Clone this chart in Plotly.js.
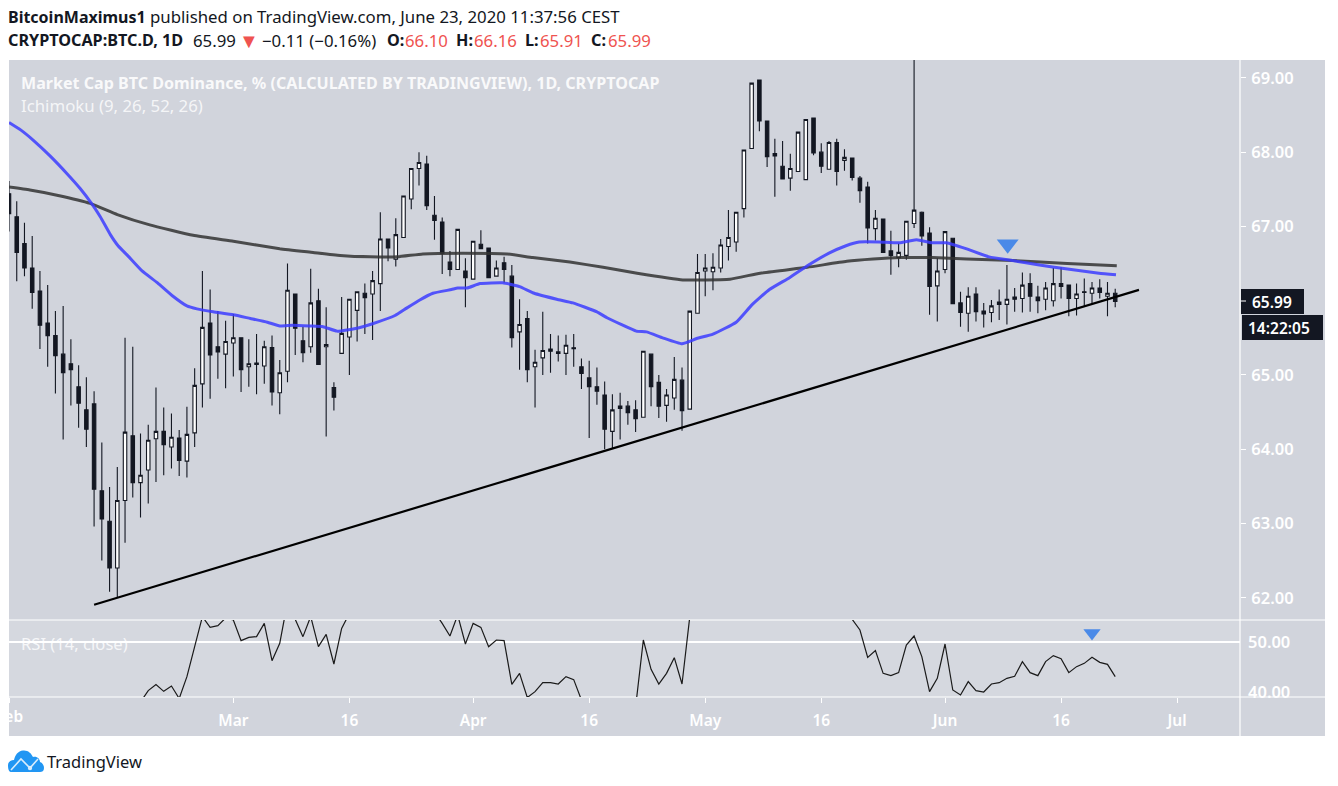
<!DOCTYPE html>
<html><head><meta charset="utf-8">
<script src="https://cdn.plot.ly/plotly-3.0.1.min.js"></script>
<style>html,body{margin:0;padding:0;background:#fff}#c{width:1338px;height:786px;position:relative}
#logo{position:absolute;left:8px;top:750px;width:36px;height:22px}</style></head>
<body><div id="c"><svg id="logo" viewBox="0 0 36 22"><path d="M3 22 C0 22 0 16 0 15 C0 12 3 10 6 10 C7 5 10 1 15 0.5 C20 0 23 3 25 7 C29 6 32 9 32 12 C35 13 36 16 36 18 C36 21 34 22 32 22 Z" fill="#2196f3"/><path d="M3 20 L13 9 L22 18 L30 9 " fill="none" stroke="#d9ecfc" stroke-width="1.6"/><circle cx="22" cy="18" r="2.2" fill="#d9ecfc"/></svg></div>
<script>
const opens=[67.44,67.13,66.77,66.44,66.13,65.70,65.53,65.28,65.15,64.84,64.53,64.61,63.44,63.03,62.40,63.31,64.18,63.55,63.72,64.14,64.24,64.03,64.15,63.84,64.22,64.88,65.70,65.38,65.28,65.43,65.50,65.11,65.16,65.12,65.37,64.76,65.05,66.09,65.46,65.38,66.00,65.38,64.83,65.29,65.51,65.87,66.10,66.09,66.23,66.83,66.56,66.85,67.37,67.78,67.84,67.15,67.06,66.52,66.42,66.40,66.29,66.76,66.71,66.33,66.51,66.33,65.58,65.76,65.11,65.23,65.35,65.31,65.29,65.365,65.11,64.96,64.84,64.73,64.24,64.55,64.58,64.53,64.43,65.28,64.90,64.59,64.69,64.93,64.54,65.83,66.40,66.39,66.44,66.73,66.79,67.24,68.05,68.97,68.42,67.95,67.81,67.65,67.74,67.63,68.46,68.00,67.77,68.13,67.89,67.92,67.65,67.53,66.97,67.10,66.67,66.58,66.61,67.04,67.19,66.91,66.20,66.42,66.84,65.97,65.83,66.09,65.86,65.84,65.98,65.95,66.05,66.03,66.23,66.05,66.02,66.00,66.23,66.21,66.03,66.12,66.10,66.17,66.06,66.10];
const highs=[67.61,67.34,67.05,66.87,66.40,66.21,65.86,65.93,65.48,65.13,64.97,64.78,64.09,63.49,63.76,65.50,65.38,64.21,64.33,64.83,64.56,64.48,64.26,64.57,65.09,66.40,66.15,65.86,65.73,65.82,65.50,65.48,65.55,65.46,65.53,65.20,66.50,66.09,65.65,66.43,66.16,65.91,64.90,66.05,66.02,66.12,66.23,66.40,67.19,66.83,67.11,67.41,67.78,68.00,67.95,67.41,67.12,66.67,66.96,66.57,66.80,66.95,66.71,66.54,66.59,66.48,66.02,65.86,65.34,65.85,65.55,65.53,65.54,65.55,65.22,65.19,65.10,64.91,64.74,64.76,64.65,64.66,65.32,65.28,65.00,64.81,65.24,65.10,65.86,66.63,66.63,66.64,66.83,67.22,67.19,68.03,68.93,68.97,68.42,68.18,68.15,67.98,68.27,68.44,68.46,68.12,68.15,68.18,68.04,67.92,67.68,67.60,67.22,67.10,66.94,66.77,67.07,69.40,67.20,66.99,66.57,66.93,66.84,66.12,66.18,66.18,65.97,66.01,66.15,66.48,66.17,66.38,66.37,66.20,66.25,66.44,66.45,66.21,66.23,66.30,66.25,66.29,66.25,66.16];
const lows=[66.93,66.26,66.33,65.89,65.35,65.11,64.75,64.13,64.59,64.29,64.03,62.96,62.50,62.08,62.00,62.74,63.35,63.08,63.27,63.56,63.65,63.74,63.64,63.62,64.03,64.56,64.68,64.95,64.82,64.98,64.77,64.84,64.74,64.88,64.59,64.47,64.90,65.27,65.17,65.30,65.14,64.17,64.52,65.29,65.00,65.45,65.55,65.47,65.86,66.53,66.46,66.85,67.23,67.55,67.22,66.82,66.36,66.33,66.42,65.91,66.29,66.70,66.31,66.33,66.24,65.37,65.07,64.90,64.56,65.00,65.03,65.18,65.00,65.11,64.81,64.15,64.60,64.00,64.01,64.13,64.33,64.23,64.43,64.58,64.42,64.37,64.53,64.25,64.54,65.83,66.06,66.14,66.38,66.54,66.66,67.12,68.05,68.28,67.80,67.40,67.64,67.48,67.74,67.63,67.96,67.72,67.77,67.55,67.75,67.62,67.32,66.77,66.81,66.65,66.35,66.45,66.55,66.98,66.74,65.81,65.72,66.37,65.96,65.65,65.58,65.72,65.64,65.71,65.74,65.68,65.85,65.84,65.85,65.83,65.87,65.92,66.03,65.79,65.80,65.92,65.97,66.03,65.79,65.91];
const closes=[67.17,66.65,66.44,66.11,65.67,65.53,65.26,65.03,65.07,64.62,64.27,63.46,63.06,62.40,63.31,64.23,63.55,63.65,64.12,64.24,64.06,64.16,63.85,64.20,64.86,65.64,65.27,65.31,65.45,65.50,65.07,65.15,65.14,65.38,64.77,65.03,66.14,65.63,65.30,65.97,65.14,65.41,64.70,65.56,66.02,66.12,66.04,66.27,66.83,66.71,66.89,67.41,67.78,67.86,67.28,67.08,66.64,66.42,66.96,66.31,66.80,66.70,66.31,66.44,66.42,65.50,65.68,65.07,65.17,65.33,65.32,65.29,65.40,65.355,65.02,64.84,64.78,64.27,64.53,64.58,64.49,64.41,65.32,64.84,64.58,64.73,64.94,64.52,65.86,66.38,66.44,66.45,66.75,66.85,67.19,68.03,68.93,68.42,67.94,67.98,67.64,67.78,68.27,68.44,67.99,67.81,68.13,67.74,67.93,67.66,67.48,66.98,67.11,66.65,66.61,66.65,67.07,67.22,66.87,66.19,66.40,66.93,65.96,65.84,66.06,65.85,65.82,65.93,65.95,66.02,66.02,66.21,66.06,66.00,66.17,66.23,66.19,66.03,66.09,66.11,66.17,66.11,66.10,65.99];
const rsiValues=[38,36,35,34,33,33,32,31,32,31,30,28,27,26,33,38,37,38,40.27,41.47,40.13,41.2,38.7,43.07,49.07,55.07,52.93,53.27,54.8,54.4,50.27,50.93,51.07,53.73,46.27,49.73,58,54.53,51.07,55.1,49.07,51.53,45.6,52.73,55.7,57,58,60,63,62,64,66,69,70,65,56,53.73,51.2,55.4,49.6,53.73,52.93,49.07,50.4,50.27,41.53,43.73,38.9,40.07,41.87,41.87,41.6,43.07,42.47,38.4,37,37,35,36,37,36,37,50.4,44.53,41.6,43.73,46.87,41.6,55,58,59,60,62,63,66,71,74,70,66,66,62,63,65,62,61,63,60,61,56,54.53,52.4,46.93,48.27,43.73,43.27,43.87,49.4,51.2,47.07,40.07,42.73,49.6,40.4,39.4,42.07,40.27,40,41.6,41.87,42.73,43.13,46.07,43.87,43.27,46.07,47.27,46.67,43.87,45.07,45.73,46.93,45.93,45.53,43.07];
const blueDays=[0,1.5,3.15,5.3,7.5,9.2,10.8,11.8,13.1,14.1,15.4,17.2,19.2,21.2,23,24.3,26.4,29,31.2,33.4,35,36.7,38.9,40.6,42.4,45,47,49.9,51.4,53.1,54.8,57.2,58,59.2,60.9,63.8,66,67.9,70.8,72.9,76,77.3,81.1,82.4,84.5,87,88.9,91,94,96,98.3,100.9,103.2,106,108.2,109.9,112.5,115.1,117.3,119.3,121.2,123.7,126.7,129.7,133.2,136.6,140.9,143.1];
const blueValues=[68.40,68.30,68.16,67.95,67.71,67.51,67.29,67.13,66.89,66.74,66.60,66.40,66.24,66.06,65.93,65.89,65.85,65.81,65.76,65.71,65.66,65.67,65.66,65.65,65.59,65.63,65.69,65.80,65.90,66.01,66.10,66.15,66.17,66.17,66.23,66.24,66.19,66.10,66.02,65.97,65.85,65.77,65.59,65.58,65.50,65.42,65.49,65.55,65.71,65.94,66.15,66.31,66.47,66.64,66.74,66.79,66.79,66.78,66.82,66.78,66.78,66.70,66.59,66.54,66.48,66.43,66.37,66.35];
const grayDays=[0,2.7,6.2,10.5,14,18.2,23.8,29,35,39.3,42.8,46.7,50.2,53.5,58.7,64.4,67.7,72.5,76.8,81.2,87.1,89.3,93.2,97.1,103.2,108.3,111.7,115.2,119.4,123.8,129.8,136.8,143.2];
const grayValues=[67.53,67.49,67.42,67.31,67.16,67.02,66.88,66.80,66.70,66.65,66.61,66.59,66.59,66.63,66.64,66.63,66.58,66.52,66.45,66.37,66.28,66.28,66.29,66.37,66.45,66.53,66.56,66.58,66.58,66.56,66.54,66.50,66.47];
const trendDays=[11,146.07];
const trendValues=[61.906,66.145];
const priceTicks=[62,63,64,65,67,68,69];
const rsiTicks=[40,50];
const dateTickDays=[0,29,44,60,75,90,105,121,136,151];
const dateTickLabels=['','Mar','16','Apr','16','May','16','Jun','16','Jul'];
const arrowDays=[129.1],arrowValues=[66.76];
const rsiArrowDays=[140],rsiArrowValues=[51.8];

const t0=Date.UTC(2020,1,1);
const D=d=>new Date(t0+d*864e5).toISOString();
const days=opens.map((_,i)=>D(i));
const PX0=9,PXW=1231,PYB=697,PYH=637;
const px=x=>(x-PX0)/PXW, py=y=>(PYB-y)/PYH;
const font='"Noto Sans", "Open Sans", sans-serif';
const dark='#131722', bg='#d1d4dc';

const traces=[
 {type:'scatter',mode:'lines',x:grayDays.map(D),y:grayValues,line:{color:'rgba(50,50,50,0.85)',width:3,shape:'spline',smoothing:0.4},hoverinfo:'skip',showlegend:false},
 {type:'scatter',mode:'lines',x:blueDays.map(D),y:blueValues,line:{color:'rgba(60,60,255,0.85)',width:3,shape:'spline',smoothing:0.4},hoverinfo:'skip',showlegend:false},
 {type:'candlestick',x:days,open:opens,high:highs,low:lows,close:closes,
  increasing:{line:{color:dark,width:1.1},fillcolor:'#ffffff'},
  decreasing:{line:{color:dark,width:1.1},fillcolor:dark},whiskerwidth:0,showlegend:false},
 {type:'scatter',mode:'lines',x:trendDays.map(D),y:trendValues,line:{color:'#000',width:2.2},hoverinfo:'skip',showlegend:false},
 {type:'scatter',mode:'markers',x:arrowDays.map(D),y:arrowValues,marker:{symbol:'triangle-down',size:19,color:'#4a8ae8'},hoverinfo:'skip',showlegend:false},
 {type:'scatter',mode:'lines',x:days,y:rsiValues,yaxis:'y2',line:{color:'#1a1a1a',width:1.2},hoverinfo:'skip',showlegend:false},
 {type:'scatter',mode:'markers',x:rsiArrowDays.map(D),y:rsiArrowValues,yaxis:'y2',marker:{symbol:'triangle-down',size:15,color:'#4a8ae8'},hoverinfo:'skip',showlegend:false}
];
const W='#ffffff';
const ink='#131722',red='#ef5350';
const F=(size,color,weight)=>({family:font,size:size,color:color,weight:weight||400});
const ann=(x,y,text,f,o)=>Object.assign({xref:'paper',yref:'paper',x:px(x-2),y:py(y),text,showarrow:false,xanchor:'left',yanchor:'middle',font:f},o||{});
const layout={
 width:1338,height:786,paper_bgcolor:'#fff',plot_bgcolor:'rgba(0,0,0,0)',showlegend:false,
 margin:{l:9,r:98,t:60,b:89,pad:0},boxgap:0.36,
 font:{family:font,color:W},
 xaxis:{type:'date',anchor:'y2',range:[D(0),D(159.13)],tickmode:'array',tickvals:dateTickDays.map(D),ticktext:dateTickLabels,
  showgrid:false,zeroline:false,showline:false,ticks:'outside',ticklen:5,tickcolor:W,tickwidth:1,
  tickfont:{family:font,size:15.5,color:W,weight:600},rangeslider:{visible:false},tickangle:0,ticklabelstandoff:4},
 yaxis:{domain:[(PYB-620)/PYH,1],range:[61.70,69.241],side:'right',anchor:'x',tickmode:'array',tickvals:priceTicks,ticktext:priceTicks.map(v=>v.toFixed(2)),
  showgrid:false,zeroline:false,showline:false,ticks:'outside',ticklen:5,tickcolor:W,tickfont:{family:font,size:16.5,color:W,weight:600},ticklabelstandoff:2},
 yaxis2:{domain:[0,(PYB-620)/PYH],range:[39,54.4],side:'right',anchor:'x',tickmode:'array',tickvals:rsiTicks,ticktext:rsiTicks.map(v=>v.toFixed(2)),
  showgrid:false,zeroline:false,showline:false,ticks:'',tickfont:{family:font,size:16.5,color:W,weight:600},ticklabelstandoff:7},
 shapes:[
  {type:'rect',layer:'below',xref:'paper',yref:'paper',x0:px(9),x1:px(1325),y0:py(60),y1:py(736),fillcolor:bg,line:{width:0}},
  {type:'rect',layer:'below',xref:'paper',yref:'paper',x0:px(9),x1:px(1240),y0:py(620),y1:py(697),fillcolor:'rgba(255,255,255,0.1)',line:{width:0}},
  {type:'line',layer:'below',xref:'paper',yref:'paper',x0:px(1240),x1:px(1240),y0:py(60),y1:py(736),line:{color:W,width:1.2}},
  {type:'line',layer:'below',xref:'paper',yref:'paper',x0:px(9),x1:px(1325),y0:py(620),y1:py(620),line:{color:W,width:1.2}},
  {type:'line',layer:'below',xref:'paper',yref:'paper',x0:px(9),x1:px(1325),y0:py(697),y1:py(697),line:{color:W,width:1.2}},
  {type:'line',layer:'below',xref:'paper',yref:'y2',x0:px(9),x1:px(1240),y0:50,y1:50,line:{color:W,width:2}},
  {type:'rect',layer:'above',xref:'paper',yref:'paper',x0:px(1241),x1:px(1304),y0:py(289),y1:py(314),fillcolor:dark,line:{width:0}},
  {type:'rect',layer:'above',xref:'paper',yref:'paper',x0:px(1242),x1:px(1323),y0:py(315),y1:py(340),fillcolor:dark,line:{width:0}},
  {type:'line',layer:'above',xref:'paper',yref:'paper',x0:px(1241),x1:px(1246),y0:py(301),y1:py(301),line:{color:W,width:1}}
 ],
 annotations:[
  ann(8,17,'BitcoinMaximus1',F(16,ink,700)),
  ann(150,17,'published on TradingView.com, June 23, 2020 11:37:56 CEST',F(16.8,ink)),
  ann(8,40,'CRYPTOCAP:BTC.D, 1D',F(16.2,ink,700)),
  ann(193,40,'65.99',F(16.8,ink)),
  ann(239,40,'▼',F(20,red)),
  ann(262,40,'−0.11 (−0.16%)',F(16.8,ink)),
  ann(387,40,'O:',F(16.2,ink,700)),ann(405,40,'66.10',F(16.8,red)),
  ann(456,40,'H:',F(16.2,ink,700)),ann(474,40,'66.16',F(16.8,red)),
  ann(525,40,'L:',F(16.2,ink,700)),ann(540,40,'65.91',F(16.8,red)),
  ann(591,40,'C:',F(16.2,ink,700)),ann(608,40,'65.99',F(16.8,red)),
  ann(21,83,'Market Cap BTC Dominance, % (CALCULATED BY TRADINGVIEW), 1D, CRYPTOCAP',F(16.1,'rgba(255,255,255,0.88)',700)),
  ann(21,105,'Ichimoku (9, 26, 52, 26)',F(16.8,'rgba(255,255,255,0.8)')),
  ann(21,643,'RSI (14, close)',F(16.6,'rgba(255,255,255,0.8)')),
  ann(1252,301.5,'65.99',F(15.5,W,600)),
  ann(1248,327.5,'14:22:05',F(15.5,W,600)),
  ann(47,761,'TradingView',F(16.5,ink)),
  {xref:'paper',yref:'paper',x:px(9),y:py(716),text:'Feb',showarrow:false,xanchor:'center',yanchor:'middle',font:F(15.5,W,600)}
 ]
};
Plotly.newPlot('c',traces,layout,{displayModeBar:false,staticPlot:true});
</script></body></html>
